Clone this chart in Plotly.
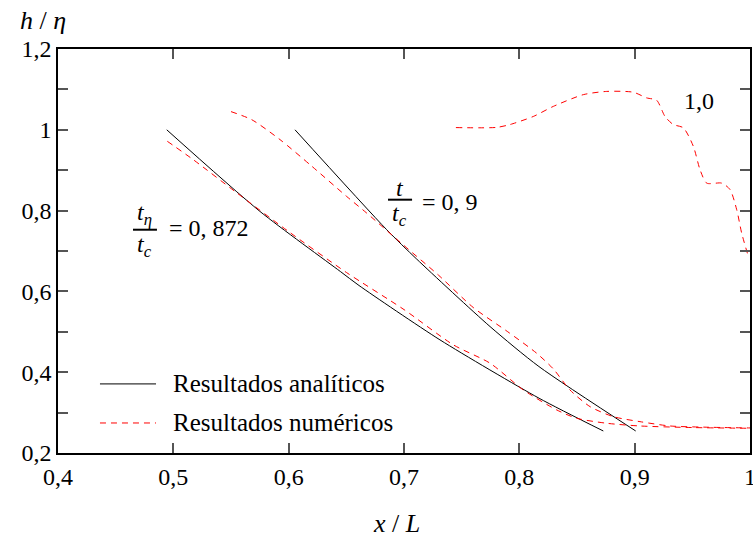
import plotly.graph_objects as go

# Analytical results (black solid)
ana_a_x = [0.4943, 0.5751, 0.6448, 0.661, 0.7312, 0.8171, 0.8728]
ana_a_y = [1.0, 0.798, 0.6493, 0.6146, 0.48, 0.3356, 0.2545]
ana_b_x = [0.6055, 0.685, 0.711, 0.7746, 0.817, 0.9009]
ana_b_y = [1.0, 0.7527, 0.68, 0.513, 0.414, 0.2545]

# Numerical results (red dashed)
num_a_x = [0.4948, 0.5173, 0.555, 0.60, 0.65, 0.70, 0.7428, 0.7746, 0.8035, 0.8324, 0.8497, 0.8758, 0.9046, 0.95, 1.0]
num_a_y = [0.9715, 0.926, 0.844, 0.748, 0.647, 0.555, 0.4677, 0.4223, 0.356, 0.3066, 0.286, 0.2736, 0.2669, 0.263, 0.2612]
num_b_x = [0.55, 0.568, 0.5925, 0.62, 0.6503, 0.6676, 0.6994, 0.73, 0.7601, 0.79, 0.815, 0.8295, 0.8439, 0.8613, 0.8815, 0.9046, 0.9306, 0.96, 1.0]
num_b_y = [1.045, 1.025, 0.9757, 0.91, 0.835, 0.794, 0.715, 0.64, 0.56, 0.50, 0.447, 0.408, 0.356, 0.3148, 0.29, 0.2776, 0.2669, 0.264, 0.262]
num_c_x = [0.745, 0.7804, 0.7919, 0.8121, 0.8295, 0.8555, 0.8758, 0.8988, 0.9104, 0.9191, 0.9263, 0.9335, 0.9422, 0.9509, 0.9567, 0.9625, 0.9755, 0.9827, 0.9885, 0.9928, 0.9986]
num_c_y = [1.0055, 1.006, 1.013, 1.033, 1.058, 1.087, 1.095, 1.093, 1.079, 1.073, 1.033, 1.013, 1.005, 0.959, 0.901, 0.868, 0.868, 0.852, 0.802, 0.744, 0.686]

y_ticks = [0.2, 0.3, 0.4, 0.5, 0.6, 0.7, 0.8, 0.9, 1.0, 1.1, 1.2]
y_text = ["0,2", "", "0,4", "", "0,6", "", "0,8", "", "1", "", "1,2"]
x_ticks = [0.4, 0.5, 0.6, 0.7, 0.8, 0.9, 1.0]
x_text = ["0,4", "0,5", "0,6", "0,7", "0,8", "0,9", "1"]

FONT = "Liberation Serif"
FS = 24
RED = "#ff0000"
DASH = "6px,5px"

fig = go.Figure()
black = dict(color="black", width=1)
red = dict(color=RED, width=1, dash=DASH)
for xs, ys, ln, nm in [
    (ana_a_x, ana_a_y, black, "Resultados analíticos"),
    (ana_b_x, ana_b_y, black, "Resultados analíticos"),
    (num_a_x, num_a_y, red, "Resultados numéricos"),
    (num_b_x, num_b_y, red, "Resultados numéricos"),
    (num_c_x, num_c_y, red, "Resultados numéricos"),
]:
    fig.add_trace(go.Scatter(x=xs, y=ys, mode="lines", line=dict(ln, shape="spline", smoothing=0.7),
                             name=nm, showlegend=False))

axis_common = dict(
    showgrid=False, zeroline=False, showline=True, linecolor="black", linewidth=1.5,
    mirror="ticks", ticks="inside", ticklen=10, tickcolor="#555555", tickwidth=1.5,
    tickfont=dict(family=FONT, size=FS, color="black"), ticklabeloverflow="allow",
    automargin=False,
)
fig.update_xaxes(range=[0.4, 1.0], tickvals=x_ticks, ticktext=x_text, ticklabelstandoff=1, **axis_common)
fig.update_yaxes(range=[0.2, 1.2], tickvals=y_ticks, ticktext=y_text, **axis_common)

annos = []
shapes = []

def txt(x, y, s, xanchor="center", size=FS):
    annos.append(dict(x=x, y=y, xref="x", yref="y", text=s, showarrow=False, xanchor=xanchor,
                      yanchor="middle", font=dict(family=FONT, size=size, color="black")))

# fractions
txt(0.4754, 0.792, "<i>t</i><sub><i>η</i></sub>")
txt(0.4754, 0.713, "<i>t</i><sub><i>c</i></sub>")
shapes.append(dict(type="line", xref="x", yref="y", x0=0.465, x1=0.4858, y0=0.7527, y1=0.7527,
                   line=dict(color="black", width=2)))
txt(0.4945, 0.7576, "= 0, 872", xanchor="left")

txt(0.6965, 0.8568, "<i>t</i>")
txt(0.6965, 0.79, "<i>t</i><sub><i>c</i></sub>")
shapes.append(dict(type="line", xref="x", yref="y", x0=0.6861, x1=0.707, y0=0.827, y1=0.827,
                   line=dict(color="black", width=2)))
txt(0.7139, 0.822, "= 0, 9", xanchor="left")

txt(0.9558, 1.0724, "1,0")

# legend (drawn manually to match line length)
shapes.append(dict(type="line", xref="x", yref="y", x0=0.4364, x1=0.485, y0=0.371, y1=0.371,
                   line=dict(color="black", width=1)))
shapes.append(dict(type="line", xref="x", yref="y", x0=0.4364, x1=0.485, y0=0.2743, y1=0.2743,
                   line=dict(color=RED, width=1, dash=DASH)))
txt(0.498, 0.373, "Resultados analíticos", xanchor="left", size=25)
txt(0.498, 0.276, "Resultados numéricos", xanchor="left", size=25)

W, H = 753, 540
ml, mr, mt, mb = 58, 3, 49, 87
pw, ph = W - ml - mr, H - mt - mb
def paper(px, py):
    return (px - ml) / pw, (H - mb - py) / ph
hx, hy = paper(43, 21)
lx, ly = paper(396, 523)
annos.append(dict(x=hx, y=hy, xref="paper", yref="paper", text="<i>h</i> / <i>η</i>", showarrow=False,
                  xanchor="center", yanchor="middle", font=dict(family=FONT, size=26, color="black")))
annos.append(dict(x=lx, y=ly, xref="paper", yref="paper", text="<i>x</i> / <i>L</i>", showarrow=False,
                  xanchor="center", yanchor="middle", font=dict(family=FONT, size=26, color="black")))

fig.update_layout(
    width=W, height=H, margin=dict(l=ml, r=mr, t=mt, b=mb),
    paper_bgcolor="white", plot_bgcolor="white", showlegend=False,
    annotations=annos, shapes=shapes,
)
fig.write_html("out.html")
